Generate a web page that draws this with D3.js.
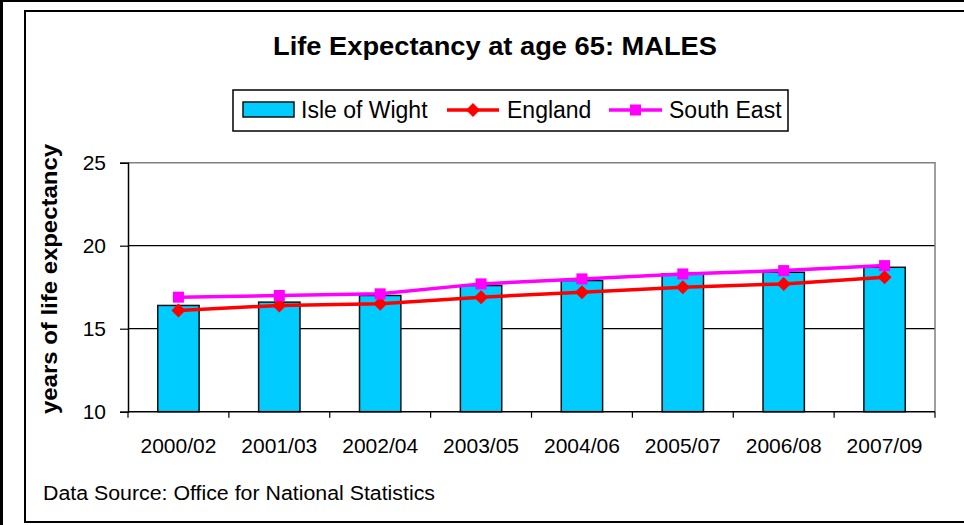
<!DOCTYPE html>
<html><head><meta charset="utf-8">
<script src="https://cdn.jsdelivr.net/npm/d3@7"></script>
<style>body{margin:0;background:#fff}svg{display:block;font-family:"Liberation Sans",Arial,sans-serif}</style>
</head><body><svg id="c" width="964" height="525"></svg>
<script>
const categories = ["2000/02","2001/03","2002/04","2003/05","2004/06","2005/07","2006/08","2007/09"];
const isleOfWight = [16.4,16.6,17.0,17.6,17.9,18.3,18.4,18.7];
const england = [16.1,16.4,16.5,16.9,17.2,17.5,17.7,18.1];
const southEast = [16.9,17.0,17.1,17.7,18.0,18.3,18.5,18.8];
const yTicks = [10,15,20,25];
const titleText = "Life Expectancy at age 65: MALES";
const yTitle = "years of life expectancy";
const sourceText = "Data Source: Office for National Statistics";
const legendNames = ["Isle of Wight","England","South East"];

const svg = d3.select("#c");
// frames
svg.append("line").attr("x1",0).attr("x2",964).attr("y1",1).attr("y2",1).attr("stroke","#000").attr("stroke-width",2);
svg.append("line").attr("x1",1.5).attr("x2",1.5).attr("y1",0).attr("y2",525).attr("stroke","#000").attr("stroke-width",3);
svg.append("rect").attr("x",25).attr("y",11).attr("width",960).attr("height",511).attr("fill","none").attr("stroke","#000").attr("stroke-width",2);

const L=128, R=935, T=162.7, B=411.7;
const x = d3.scaleBand().domain(categories).range([L,R]).paddingInner(0.59).paddingOuter(0.295);
const xc = d3.scaleBand().domain(categories).range([L,R]);
const y = d3.scaleLinear().domain([10,25]).range([B,T]);

// gridlines
svg.append("g").selectAll("line").data(yTicks.filter(v=>v>10&&v<25)).join("line")
  .attr("x1",L).attr("x2",R).attr("y1",d=>y(d)).attr("y2",d=>y(d)).attr("stroke","#000").attr("stroke-width",1.2);
// plot border top/right gray
svg.append("path").attr("d",`M${L},${T}H${R}V${B}`).attr("fill","none").attr("stroke","#808080").attr("stroke-width",1.5);

// bars
svg.append("g").selectAll("rect").data(isleOfWight).join("rect")
  .attr("x",(d,i)=>x(categories[i])).attr("width",x.bandwidth())
  .attr("y",d=>y(d)).attr("height",d=>B-y(d))
  .attr("fill","#00CCFF").attr("stroke","#111").attr("stroke-width",1.5);

// y axis
const ya = svg.append("g").attr("transform",`translate(${L},0)`)
  .call(d3.axisLeft(y).tickValues(yTicks).tickSize(8).tickPadding(14).tickFormat(d3.format("d")));
ya.select(".domain").attr("stroke","#000").attr("stroke-width",1.5);
ya.selectAll(".tick line").attr("stroke","#000").attr("stroke-width",1.2);
ya.selectAll("text").attr("font-size",21).attr("fill","#000").attr("font-family","Liberation Sans, Arial");

// x axis
const xa = svg.append("g").attr("transform",`translate(0,${B})`);
xa.append("line").attr("x1",L).attr("x2",R).attr("stroke","#000").attr("stroke-width",1.5);
const bounds = categories.map(c=>xc(c)).concat([R]);
xa.selectAll("line.t").data(bounds).join("line").attr("class","t")
  .attr("x1",d=>d).attr("x2",d=>d).attr("y1",0).attr("y2",6).attr("stroke","#000").attr("stroke-width",1.2);
xa.selectAll("text").data(categories).join("text")
  .attr("x",d=>xc(d)+xc.bandwidth()/2).attr("y",41).attr("text-anchor","middle")
  .attr("font-size",21).text(d=>d);

// lines
const line = arr => d3.line().x((d,i)=>xc(categories[i])+xc.bandwidth()/2).y(d=>y(d))(arr);
svg.append("path").attr("d",line(england)).attr("fill","none").attr("stroke","#FF0000").attr("stroke-width",3.5);
svg.append("path").attr("d",line(southEast)).attr("fill","none").attr("stroke","#FF00FF").attr("stroke-width",3.5);
svg.append("g").selectAll("path").data(england).join("path")
  .attr("transform",(d,i)=>`translate(${xc(categories[i])+xc.bandwidth()/2},${y(d)})`)
  .attr("d","M0,-7L7,0L0,7L-7,0Z").attr("fill","#FF0000");
svg.append("g").selectAll("rect").data(southEast).join("rect")
  .attr("x",(d,i)=>xc(categories[i])+xc.bandwidth()/2-5.5).attr("y",d=>y(d)-5.5)
  .attr("width",11).attr("height",11).attr("fill","#FF00FF");

// title
svg.append("text").attr("x",495).attr("y",55).attr("text-anchor","middle")
  .attr("font-size",26).attr("font-weight","bold")
  .attr("textLength",444).attr("lengthAdjust","spacingAndGlyphs").text(titleText);

// y title
svg.append("text").attr("transform","translate(57,279) rotate(-90)").attr("text-anchor","middle")
  .attr("font-size",22).attr("font-weight","bold")
  .attr("textLength",270).attr("lengthAdjust","spacingAndGlyphs").text(yTitle);

// source
svg.append("text").attr("x",43).attr("y",500).attr("font-size",20)
  .attr("textLength",392).attr("lengthAdjust","spacingAndGlyphs").text(sourceText);

// legend
const lg = svg.append("g");
lg.append("rect").attr("x",233).attr("y",90).attr("width",555).attr("height",41).attr("fill","#fff").attr("stroke","#000").attr("stroke-width",1.5);
lg.append("rect").attr("x",243).attr("y",102).attr("width",51).attr("height",15).attr("fill","#00CCFF").attr("stroke","#111").attr("stroke-width",1.5);
lg.append("text").attr("x",301).attr("y",118).attr("font-size",23).text(legendNames[0]);
lg.append("line").attr("x1",447).attr("x2",499).attr("y1",110).attr("y2",110).attr("stroke","#FF0000").attr("stroke-width",3.5);
lg.append("path").attr("transform","translate(473,110)").attr("d","M0,-7L7,0L0,7L-7,0Z").attr("fill","#FF0000");
lg.append("text").attr("x",507).attr("y",118).attr("font-size",23).text(legendNames[1]);
lg.append("line").attr("x1",609).attr("x2",662).attr("y1",110).attr("y2",110).attr("stroke","#FF00FF").attr("stroke-width",3.5);
lg.append("rect").attr("x",630).attr("y",104.5).attr("width",11).attr("height",11).attr("fill","#FF00FF");
lg.append("text").attr("x",669).attr("y",118).attr("font-size",23).text(legendNames[2]);
</script></body></html>
